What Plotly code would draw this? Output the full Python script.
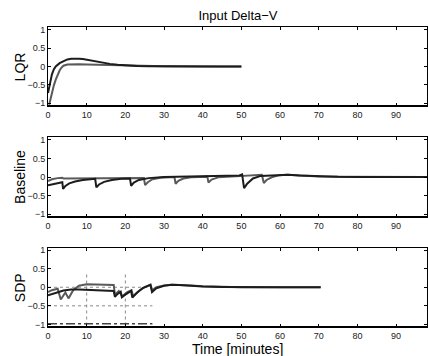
import plotly.graph_objects as go

# ---------------- data ----------------
x_ticks = [0, 10, 20, 30, 40, 50, 60, 70, 80, 90]
y_ticks = [-1, -0.5, 0, 0.5, 1]
y_tick_text = ["\u22121", "\u22120.5", "0", "0.5", "1"]

lqr_t1 = [0, 0.5, 1, 1.5, 2, 3, 4, 5, 6, 7, 8, 9, 10, 12, 14, 16, 18, 20, 23, 26, 30, 35, 40, 45, 50]
lqr_u1 = [-0.72, -0.42, -0.22, -0.08, 0.0, 0.09, 0.15, 0.19, 0.21, 0.215, 0.21, 0.2, 0.18, 0.14, 0.1,
          0.07, 0.045, 0.03, 0.015, 0.008, 0.003, 0.001, 0, 0, 0]
lqr_t2 = [0.3, 0.7, 1, 1.5, 2, 2.5, 3, 3.5, 4, 5, 6, 8, 10, 12, 15, 18, 20, 25, 30, 40, 50]
lqr_u2 = [-1.04, -0.85, -0.72, -0.52, -0.36, -0.22, -0.11, -0.03, 0.02, 0.05, 0.06, 0.06, 0.055,
          0.05, 0.04, 0.03, 0.022, 0.01, 0.004, 0, 0]

base_t1 = [0, 2, 3.7, 3.9, 4.5, 5.5, 7, 9, 12.2, 12.5, 13.2, 14.5, 16.5, 19, 21.2, 21.5, 22.2, 23.5, 26,
           30, 40, 49.5, 50.2, 50.7, 51.5, 53, 55, 57, 60, 62, 65, 70, 75, 80, 98]
base_u1 = [-0.22, -0.18, -0.14, -0.32, -0.24, -0.17, -0.12, -0.08, -0.05, -0.28, -0.2, -0.13, -0.08,
           -0.05, -0.04, -0.24, -0.15, -0.08, -0.03, 0.0, 0.02, 0.04, 0.07, -0.3, -0.18, -0.04, 0.03,
           0.04, 0.06, 0.06, 0.04, 0.015, 0.005, 0, 0]
base_t2 = [0, 1, 2.5, 3.7, 4, 10, 20, 24.8, 25.1, 25.8, 27, 29, 32.7, 33, 33.7, 35, 37, 41.2, 41.5, 42.3,
           44, 47, 50, 55.3, 55.8, 56.5, 58, 60, 62, 65, 70, 75, 80, 98]
base_u2 = [-0.11, -0.06, -0.03, -0.02, -0.04, -0.04, -0.04, -0.03, -0.22, -0.14, -0.06, -0.02, 0.0,
           -0.18, -0.1, -0.04, -0.01, 0.01, -0.15, -0.07, -0.01, 0.01, 0.02, 0.06, -0.16, -0.08, 0.0,
           0.05, 0.06, 0.04, 0.015, 0.005, 0, 0]

sdp_t1 = [0, 1, 2, 3, 4, 5, 6, 8, 10, 12, 15, 17, 17.3, 18, 18.8, 19.1, 20, 21, 21.5, 21.8, 23, 24.5,
          26.5, 26.9, 28, 30, 32, 34, 37, 40, 45, 50, 60, 70.5]
sdp_u1 = [-0.22, -0.18, -0.15, -0.12, -0.09, -0.07, -0.06, -0.06, -0.065, -0.07, -0.09, -0.1, -0.26,
          -0.18, -0.12, -0.27, -0.2, -0.14, -0.1, -0.28, -0.15, -0.02, 0.07, -0.13, -0.03, 0.04, 0.07,
          0.06, 0.04, 0.02, 0.008, 0.002, 0, 0]
sdp_t2 = [0, 1, 2.5, 3.3, 4.5, 5.3, 6.5, 8, 10, 12, 15, 17, 17.3, 18.3, 19.2, 20.5, 21.6, 22, 23.5, 25,
          26.5, 26.9, 28, 30, 32, 34, 37, 40, 45, 50, 60, 70.5]
sdp_u2 = [-0.13, -0.08, -0.04, -0.33, -0.14, -0.3, -0.08, 0.04, 0.08, 0.08, 0.07, 0.06, -0.2, -0.1,
          -0.24, -0.13, -0.08, -0.24, -0.1, 0.0, 0.06, -0.08, 0.0, 0.05, 0.07, 0.07, 0.05, 0.03, 0.01,
          0.003, 0, 0]

# SDP constraint guides
guide_h_t = [0, 27]
guide_zero = [0, 0]
guide_half = [-0.5, -0.5]
guide_limit = [-0.98, -0.98]
guide_v_u = [-1.03, 0.35]
guide_v1_t = [10, 10]
guide_v2_t = [20, 20]

# ---------------- figure ----------------
DARK = "#1c1c1c"
GRAY = "#5a5a5a"

fig = go.Figure()


def line(t, u, xa, ya, color, width=2.0, dash=None):
    fig.add_trace(go.Scatter(x=t, y=u, mode="lines", xaxis=xa, yaxis=ya,
                             line=dict(color=color, width=width, dash=dash),
                             showlegend=False, hoverinfo="skip"))


line(lqr_t2, lqr_u2, "x", "y", GRAY)
line(lqr_t1, lqr_u1, "x", "y", DARK)
line(base_t2, base_u2, "x2", "y2", GRAY)
line(base_t1, base_u1, "x2", "y2", DARK)

line(guide_h_t, guide_zero, "x3", "y3", "#8a8a8a", 1, "dot")
line(guide_h_t, guide_half, "x3", "y3", "#8a8a8a", 1, "dot")
line(guide_v1_t, guide_v_u, "x3", "y3", "#8a8a8a", 1, "dot")
line(guide_v2_t, guide_v_u, "x3", "y3", "#8a8a8a", 1, "dot")
line(guide_h_t, guide_limit, "x3", "y3", "#444444", 1.5, "dashdot")
line(sdp_t2, sdp_u2, "x3", "y3", GRAY)
line(sdp_t1, sdp_u1, "x3", "y3", DARK)

FONT = "Liberation Sans, Arial, sans-serif"
domains = [[0.737, 1.0], [0.367, 0.633], [0.0, 0.265]]

common_x = dict(range=[0, 98], tickvals=x_ticks, ticks="inside", ticklen=3, tickcolor="#000",
                showline=True, linecolor="#000", linewidth=1, mirror="ticks", showgrid=False,
                zeroline=False, tickfont=dict(size=9, color="#222", family=FONT))
common_y = dict(range=[-1.07, 1.07], tickvals=y_ticks, ticktext=y_tick_text, ticks="inside",
                ticklen=3, tickcolor="#000", showline=True, linecolor="#000", linewidth=1,
                mirror="ticks", showgrid=False, zeroline=False,
                tickfont=dict(size=9, color="#222", family=FONT))

fig.update_layout(
    width=428, height=356,
    margin=dict(l=48, r=1, t=27, b=29),
    paper_bgcolor="white", plot_bgcolor="white",
    font=dict(family=FONT, color="#000"),
    title=dict(text="Input Delta\u2212V", x=0.556, xanchor="center", y=0.956, yanchor="middle",
               font=dict(size=13, family=FONT, color="#000")),
    xaxis=dict(anchor="y", domain=[0, 1], **common_x),
    yaxis=dict(anchor="x", domain=domains[0], **common_y),
    xaxis2=dict(anchor="y2", domain=[0, 1], **common_x),
    yaxis2=dict(anchor="x2", domain=domains[1], **common_y),
    xaxis3=dict(anchor="y3", domain=[0, 1], **common_x),
    yaxis3=dict(anchor="x3", domain=domains[2], **common_y),
)

# thicker bottom axis lines
for xd, yd in (("x domain", "y domain"), ("x2 domain", "y2 domain"), ("x3 domain", "y3 domain")):
    fig.add_shape(type="line", xref=xd, yref=yd, x0=0, x1=1, y0=0, y1=0,
                  line=dict(color="#000", width=2))

labels = ["LQR", "Baseline", "SDP"]
for lab, d in zip(labels, domains):
    fig.add_annotation(text=lab, xref="paper", yref="paper", x=-0.074, y=(d[0] + d[1]) / 2,
                       xanchor="center", yanchor="middle", textangle=-90, showarrow=False,
                       font=dict(size=14, family=FONT, color="#000"))

fig.add_annotation(text="Time [minutes]", xref="paper", yref="paper", x=0.5, y=-0.072,
                   xanchor="center", yanchor="middle", showarrow=False,
                   font=dict(size=14, family=FONT, color="#000"))

fig.write_html("out.html", config={"displayModeBar": False},
               post_script="document.body.style.margin='0';document.body.style.overflow='hidden';")
